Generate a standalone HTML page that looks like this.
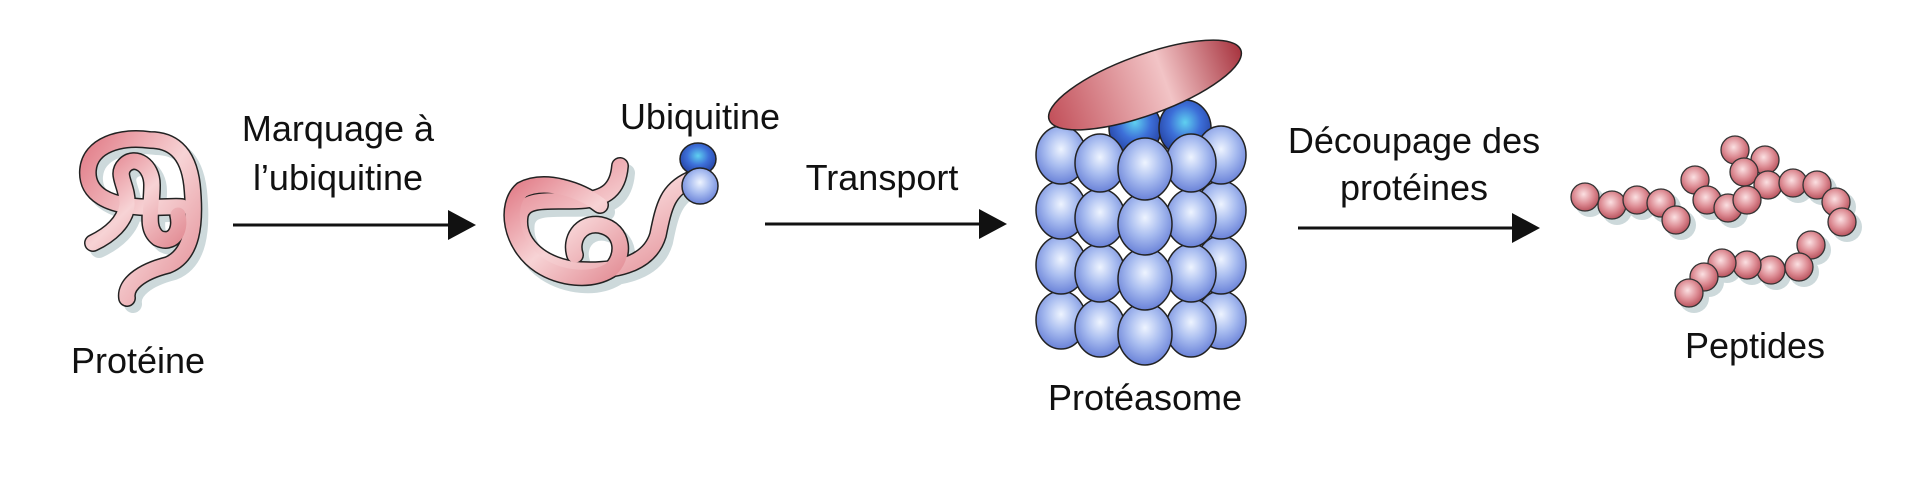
<!DOCTYPE html>
<html><head><meta charset="utf-8"><style>
html,body{margin:0;padding:0;background:#fff;}
svg{display:block}
text{font-family:"Liberation Sans",sans-serif;font-size:36px;fill:#111;}
</style></head><body>
<svg width="1920" height="477" viewBox="0 0 1920 477" xmlns="http://www.w3.org/2000/svg">
<defs>
<linearGradient id="pk" x1="0" y1="0" x2="1" y2="1">
<stop offset="0" stop-color="#e27f8a"/><stop offset="0.5" stop-color="#f7d3d5"/><stop offset="1" stop-color="#e38f97"/></linearGradient>
<radialGradient id="bl" cx="0.5" cy="0.4" r="0.6"><stop offset="0" stop-color="#eef4ff"/><stop offset="0.5" stop-color="#a9bdf0"/><stop offset="1" stop-color="#6a82d8"/></radialGradient>
<radialGradient id="bd" cx="0.5" cy="0.4" r="0.6"><stop offset="0" stop-color="#5fd0f0"/><stop offset="0.5" stop-color="#3d6fd8"/><stop offset="1" stop-color="#2440a0"/></radialGradient>
<radialGradient id="rb" cx="0.45" cy="0.4" r="0.6"><stop offset="0" stop-color="#fbe0e2"/><stop offset="0.6" stop-color="#dc8a92"/><stop offset="1" stop-color="#b9545f"/></radialGradient>
<linearGradient id="cap" x1="0" y1="0" x2="1" y2="0"><stop offset="0" stop-color="#c2505a"/><stop offset="0.6" stop-color="#f2c4c6"/><stop offset="1" stop-color="#a83540"/></linearGradient>
<g id="row">
<ellipse cx="1061" cy="0" rx="25" ry="29" fill="url(#bl)"/>
<ellipse cx="1221" cy="0" rx="25" ry="29" fill="url(#bl)"/>
<ellipse cx="1100" cy="8" rx="25" ry="29" fill="url(#bl)"/>
<ellipse cx="1191" cy="8" rx="25" ry="29" fill="url(#bl)"/>
<ellipse cx="1145" cy="14" rx="27" ry="31" fill="url(#bl)"/>
</g>
</defs>

<!-- protein 1 -->
<g fill="none" stroke-linecap="round" stroke-linejoin="round">
<g transform="translate(6,6)" stroke="#cdd9db" stroke-width="18">
<path d="M127,298 C125,285 140,272 168,265 C192,255 196,225 192,185 C188,150 170,140 150,140 C120,136 90,145 88,170 C86,195 110,205 140,207 C160,208 175,206 182,207"/>
<path d="M93,243 C110,235 125,222 127,205 C128,185 115,175 125,165 C135,155 152,165 152,185 C152,210 145,228 158,238 C172,245 182,232 178,215"/>
</g>
<g stroke="#222" stroke-width="18">
<path d="M127,298 C125,285 140,272 168,265 C192,255 196,225 192,185 C188,150 170,140 150,140 C120,136 90,145 88,170 C86,195 110,205 140,207 C160,208 175,206 182,207"/>
<path d="M93,243 C110,235 125,222 127,205 C128,185 115,175 125,165 C135,155 152,165 152,185 C152,210 145,228 158,238 C172,245 182,232 178,215"/>
</g>
<g stroke="url(#pk)" stroke-width="15">
<path d="M127,298 C125,285 140,272 168,265 C192,255 196,225 192,185 C188,150 170,140 150,140 C120,136 90,145 88,170 C86,195 110,205 140,207 C160,208 175,206 182,207"/>
<path d="M93,243 C110,235 125,222 127,205 C128,185 115,175 125,165 C135,155 152,165 152,185 C152,210 145,228 158,238 C172,245 182,232 178,215"/>
</g>
</g>
<text x="138" y="373" text-anchor="middle">Protéine</text>

<line x1="233" y1="225" x2="452" y2="225" stroke="#111" stroke-width="3"/>
<path d="M448,210 L476,225 L448,240z" fill="#111"/>
<text x="338" y="141" text-anchor="middle">Marquage à</text>
<text x="338" y="190" text-anchor="middle">l’ubiquitine</text>

<!-- protein 2 -->
<g fill="none" stroke-linecap="round" stroke-linejoin="round">
<g transform="translate(6,7)" stroke="#cdd9db" stroke-width="18">
<path d="M620,166 C618,190 605,198 585,200 C555,203 525,195 520,215 C515,245 545,268 580,270 C620,272 650,262 658,235 C664,205 668,190 690,180"/>
<path d="M600,205 C580,190 545,178 522,190 C505,205 510,245 540,265 C560,278 590,282 610,270 C625,258 625,230 600,225 C580,222 570,240 575,255"/>
</g>
<g stroke="#222" stroke-width="18">
<path d="M620,166 C618,190 605,198 585,200 C555,203 525,195 520,215 C515,245 545,268 580,270 C620,272 650,262 658,235 C664,205 668,190 690,180"/>
<path d="M600,205 C580,190 545,178 522,190 C505,205 510,245 540,265 C560,278 590,282 610,270 C625,258 625,230 600,225 C580,222 570,240 575,255"/>
</g>
<g stroke="url(#pk)" stroke-width="15">
<path d="M620,166 C618,190 605,198 585,200 C555,203 525,195 520,215 C515,245 545,268 580,270 C620,272 650,262 658,235 C664,205 668,190 690,180"/>
<path d="M600,205 C580,190 545,178 522,190 C505,205 510,245 540,265 C560,278 590,282 610,270 C625,258 625,230 600,225 C580,222 570,240 575,255"/>
</g>
</g>
<ellipse cx="698" cy="159" rx="18" ry="16" fill="url(#bd)" stroke="#222" stroke-width="1.5"/>
<ellipse cx="700" cy="186" rx="18" ry="18" fill="url(#bl)" stroke="#222" stroke-width="1.5"/>
<text x="700" y="129" text-anchor="middle">Ubiquitine</text>

<line x1="765" y1="224" x2="985" y2="224" stroke="#111" stroke-width="3"/>
<path d="M979,209 L1007,224 L979,239z" fill="#111"/>
<text x="882" y="190" text-anchor="middle">Transport</text>

<!-- proteasome -->
<g stroke="#222" stroke-width="1.5">
<ellipse cx="1135" cy="128" rx="26" ry="28" fill="url(#bd)"/>
<ellipse cx="1185" cy="128" rx="26" ry="28" fill="url(#bd)"/>
<use href="#row" transform="translate(0,320)"/>
<use href="#row" transform="translate(0,265)"/>
<use href="#row" transform="translate(0,210)"/>
<use href="#row" transform="translate(0,155)"/>
</g>
<ellipse cx="1145" cy="85" rx="102" ry="30" transform="rotate(-20 1145 85)" fill="url(#cap)" stroke="#222" stroke-width="1.5"/>
<text x="1145" y="410" text-anchor="middle">Protéasome</text>

<line x1="1298" y1="228" x2="1518" y2="228" stroke="#111" stroke-width="3"/>
<path d="M1512,213 L1540,228 L1512,243z" fill="#111"/>
<text x="1414" y="153" text-anchor="middle">Découpage des</text>
<text x="1414" y="200" text-anchor="middle">protéines</text>

<!-- peptides -->
<g fill="#cdd9db">
<circle cx="1590" cy="202" r="15"/><circle cx="1617" cy="210" r="15"/><circle cx="1642" cy="205" r="15"/><circle cx="1666" cy="208" r="15"/><circle cx="1681" cy="225" r="15"/>
<circle cx="1712" cy="205" r="15"/><circle cx="1733" cy="213" r="15"/><circle cx="1798" cy="188" r="15"/><circle cx="1822" cy="190" r="15"/><circle cx="1841" cy="207" r="15"/><circle cx="1847" cy="227" r="15"/>
<circle cx="1816" cy="250" r="15"/><circle cx="1804" cy="272" r="15"/><circle cx="1776" cy="275" r="15"/><circle cx="1752" cy="270" r="15"/><circle cx="1727" cy="268" r="15"/><circle cx="1709" cy="282" r="15"/><circle cx="1694" cy="298" r="15"/>
</g>
<g fill="url(#rb)" stroke="#333" stroke-width="1.3">
<circle cx="1585" cy="197" r="14"/><circle cx="1612" cy="205" r="14"/><circle cx="1637" cy="200" r="14"/><circle cx="1661" cy="203" r="14"/><circle cx="1676" cy="220" r="14"/>
<circle cx="1735" cy="150" r="14"/><circle cx="1765" cy="160" r="14"/><circle cx="1744" cy="172" r="14"/><circle cx="1695" cy="180" r="14"/>
<circle cx="1768" cy="185" r="14"/><circle cx="1793" cy="183" r="14"/><circle cx="1817" cy="185" r="14"/><circle cx="1836" cy="202" r="14"/><circle cx="1842" cy="222" r="14"/>
<circle cx="1707" cy="200" r="14"/><circle cx="1728" cy="208" r="14"/><circle cx="1747" cy="200" r="14"/>
<circle cx="1811" cy="245" r="14"/><circle cx="1799" cy="267" r="14"/><circle cx="1771" cy="270" r="14"/><circle cx="1747" cy="265" r="14"/><circle cx="1722" cy="263" r="14"/><circle cx="1704" cy="277" r="14"/><circle cx="1689" cy="293" r="14"/>
</g>
<text x="1755" y="358" text-anchor="middle">Peptides</text>
</svg>
</body></html>
